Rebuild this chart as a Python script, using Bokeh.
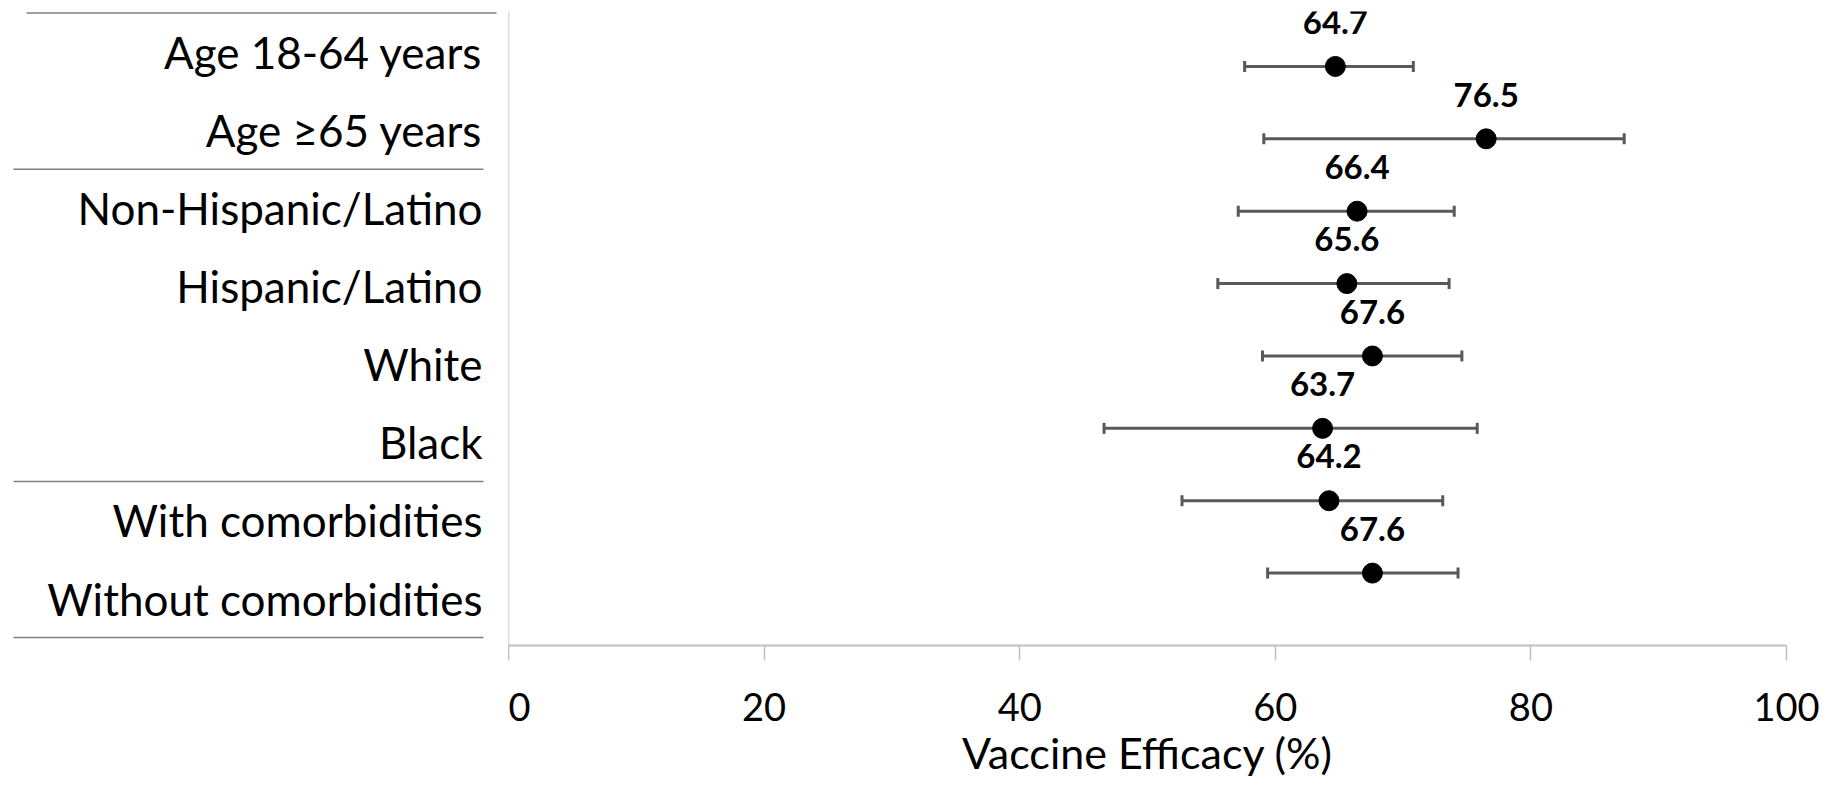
from bokeh.plotting import figure
from bokeh.models import ColumnDataSource, Range1d, Whisker, TeeHead, Span, FixedTicker
from bokeh.layouts import row
from bokeh.core.properties import value
from bokeh.embed import file_html
from bokeh.resources import INLINE

# ---- data ----
categories = ["Age 18-64 years", "Age \u226565 years", "Non-Hispanic/Latino", "Hispanic/Latino",
              "White", "Black", "With comorbidities", "Without comorbidities"]
efficacy = [64.7, 76.5, 66.4, 65.6, 67.6, 63.7, 64.2, 67.6]
ci_lower = [57.6, 59.1, 57.1, 55.5, 59.0, 46.6, 52.7, 59.4]
ci_upper = [70.8, 87.3, 74.0, 73.6, 74.6, 75.8, 73.1, 74.3]
group_sizes = [2, 4, 2]
x_ticks = [0, 20, 40, 60, 80, 100]
x_title = "Vaccine Efficacy (%)"

FONT = "Lato"
H = 780
n = len(categories)

# ---- left panel: category table ----
left = figure(width=508, height=H, output_backend="svg", toolbar_location=None,
              x_range=Range1d(0, 508), y_range=Range1d(7.601, -0.519),
              min_border=0, outline_line_color=None)
left.axis.visible = False
left.grid.visible = False

rows_idx = list(range(n))
left.text(x=[482] * n, y=rows_idx, text=categories, text_align="right",
          text_baseline="middle", text_font=value(FONT), text_font_size="44px",
          text_color="black")

bounds = [-0.5]
acc = 0
for g in group_sizes:
    acc += g
    bounds.append(acc - 0.5)
x0s = [26] + [13] * (len(bounds) - 1)
x1s = [496] + [483] * (len(bounds) - 1)
left.segment(x0=x0s, y0=bounds, x1=x1s, y1=bounds, line_color="#7F7F7F", line_width=1.5)

# ---- right panel: forest plot ----
ypos = [n - i for i in range(n)]
src = ColumnDataSource(dict(ve=efficacy, lo=ci_lower, hi=ci_upper, y=ypos,
                            ylab=[v + 0.612 for v in ypos],
                            lab=[f"{v:.1f}" for v in efficacy]))

p = figure(width=1313, height=H, output_backend="svg", toolbar_location=None,
           x_range=Range1d(0, 100), y_range=Range1d(0, 8.759),
           min_border_left=0, min_border_right=35, min_border_top=11, min_border_bottom=134,
           outline_line_color=None)
p.grid.visible = False
p.yaxis.visible = False

ax = p.xaxis[0]
ax.ticker = FixedTicker(ticks=x_ticks)
ax.axis_line_color = "#BFBFBF"
ax.axis_line_width = 2
ax.major_tick_line_color = "#BFBFBF"
ax.major_tick_line_width = 1.5
ax.major_tick_out = 15
ax.major_tick_in = 0
ax.minor_tick_line_color = None
ax.major_label_text_font = FONT
ax.major_label_text_font_size = "38px"
ax.major_label_text_color = "black"
ax.major_label_standoff = 32
ax.axis_label = x_title
ax.axis_label_text_font = FONT
ax.axis_label_text_font_size = "43px"
ax.axis_label_text_font_style = "normal"
ax.axis_label_text_color = "black"
ax.axis_label_standoff = 3

p.add_layout(Span(location=0, dimension="height", line_color="#BFBFBF", line_width=1.5))

w = Whisker(source=src, base="y", lower="lo", upper="hi", dimension="width",
            line_color="#595959", line_width=3,
            lower_head=TeeHead(size=11, line_color="#595959", line_width=3),
            upper_head=TeeHead(size=11, line_color="#595959", line_width=3))
p.add_layout(w)

p.scatter(x="ve", y="y", source=src, size=20, color="black")
p.text(x="ve", y="ylab", text="lab", source=src, text_align="center", text_baseline="middle",
       text_font=value(FONT), text_font_style="bold", text_font_size="33px", text_color="black")

layout = row(left, p, spacing=0)
open("out.html", "w").write(file_html(layout, INLINE))
